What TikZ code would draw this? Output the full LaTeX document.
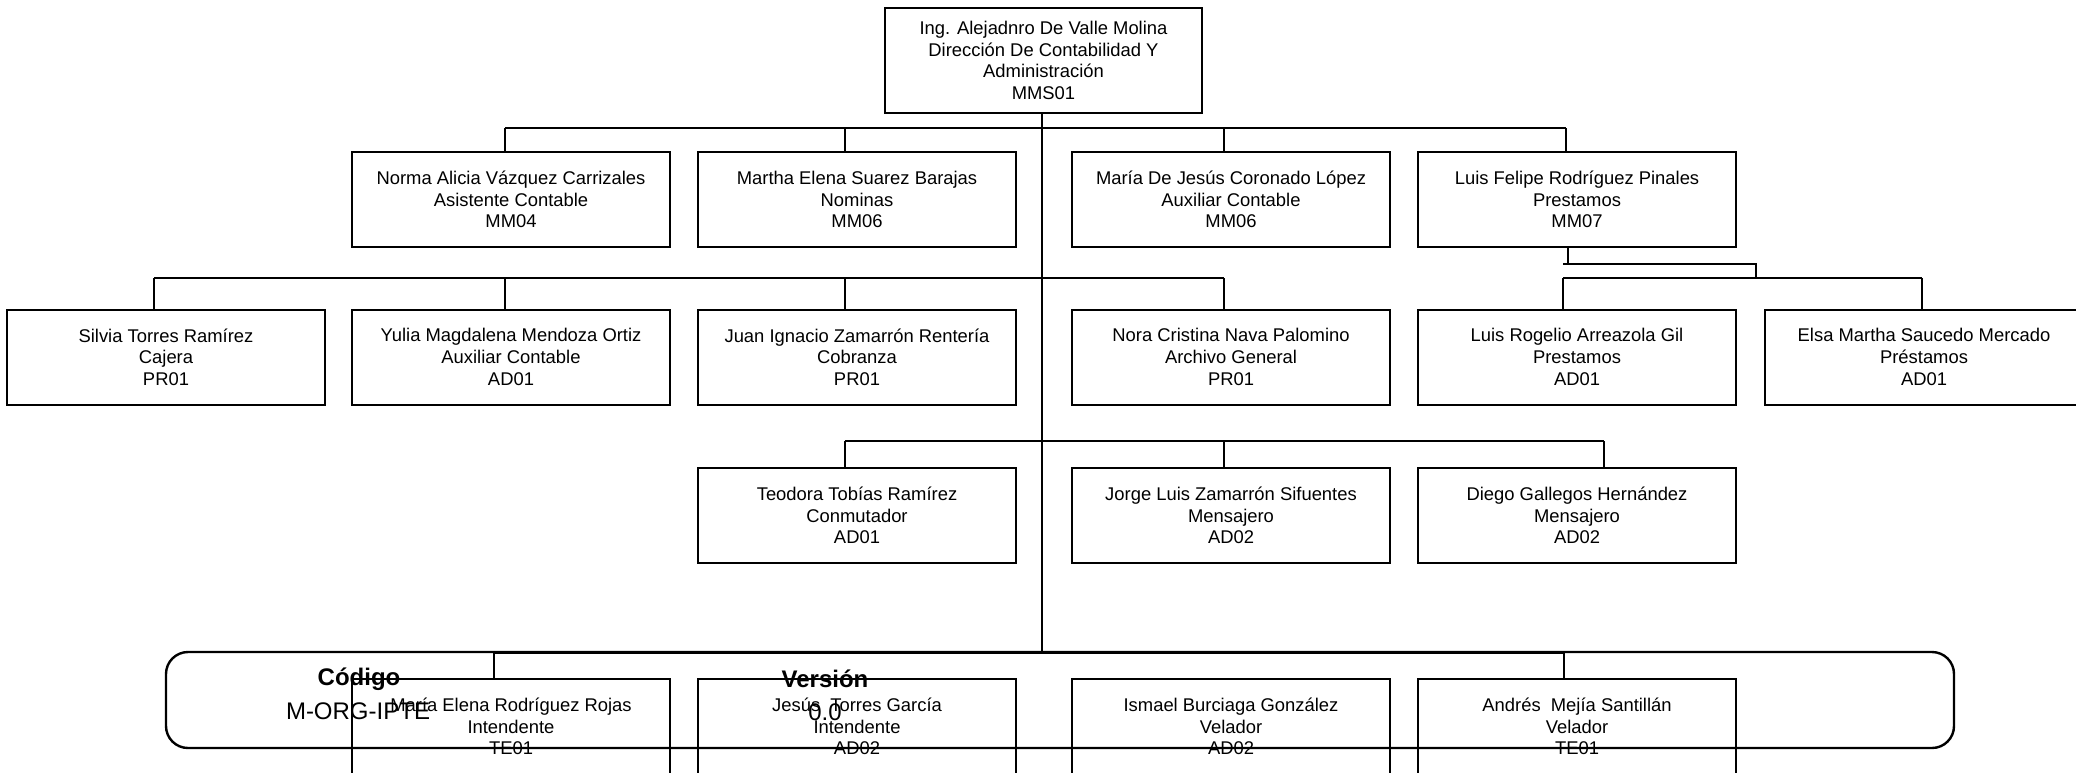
\documentclass[tikz,border=0pt]{standalone}
\usepackage{fontspec}
\setmainfont{Liberation Sans}
\begin{document}
\begin{tikzpicture}[x=0.5pt,y=-0.5pt,
  box/.style={draw, line width=1pt, minimum width=159pt, minimum height=47.5pt,
    inner sep=0pt, align=center, font=\fontsize{9.2pt}{10.8pt}\selectfont},
  link/.style={line width=0.7pt},
  foothead/.style={font=\fontsize{12pt}{14pt}\selectfont\bfseries, inner sep=0pt},
  foottext/.style={font=\fontsize{12pt}{14pt}\selectfont, inner sep=0pt},
  footbox/.style={draw, line width=1.2pt, rounded corners=11pt}]
\useasboundingbox (0,0) rectangle (2076,772);

% top
\node[box, minimum width=158.5pt, minimum height=52.5pt] (top) at (1043.5,60.5)
  {Ing. Alejadnro De Valle Molina\\Dirección De Contabilidad Y\\Administración\\MMS01};

% row 1
\node[box] (norma)  at (511,199.5)  {Norma Alicia Vázquez Carrizales\\Asistente Contable\\MM04};
\node[box] (martha) at (857,199.5)  {Martha Elena Suarez Barajas\\Nominas\\MM06};
\node[box] (mdj)    at (1231,199.5) {María De Jesús Coronado López\\Auxiliar Contable\\MM06};
\node[box] (lf)     at (1577,199.5) {Luis Felipe Rodríguez Pinales\\Prestamos\\MM07};

% row 2
\node[box] (silvia) at (166,357)  {Silvia Torres Ramírez\\Cajera\\PR01};
\node[box] (yulia)  at (511,357)  {Yulia Magdalena Mendoza Ortiz\\Auxiliar Contable\\AD01};
\node[box] (juan)   at (857,357)  {Juan Ignacio Zamarrón Rentería\\Cobranza\\PR01};
\node[box] (nora)   at (1231,357) {Nora Cristina Nava Palomino\\Archivo General\\PR01};
\node[box] (lr)     at (1577,357) {Luis Rogelio Arreazola Gil\\Prestamos\\AD01};
\node[box] (elsa)   at (1924,357) {Elsa Martha Saucedo Mercado\\Préstamos\\AD01};

% row 3
\node[box] (teo)    at (857,515.5)  {Teodora Tobías Ramírez\\Conmutador\\AD01};
\node[box] (jorge)  at (1231,515.5) {Jorge Luis Zamarrón Sifuentes\\Mensajero\\AD02};
\node[box] (diego)  at (1577,515.5) {Diego Gallegos Hernández\\Mensajero\\AD02};

% row 4
\node[box] (mer)    at (511,726.5)  {María Elena Rodríguez Rojas\\Intendente\\TE01};
\node[box] (jesus)  at (857,726.5)  {Jesús\ \ Torres García\\Intendente\\AD02};
\node[box] (ismael) at (1231,726.5) {Ismael Burciaga González\\Velador\\AD02};
\node[box] (andres) at (1577,726.5) {Andrés\ \ Mejía Santillán\\Velador\\TE01};

% bus coordinates
\coordinate (t0) at (1042,113);
\coordinate (tEnd) at (1042,653);
\coordinate (b1a) at (505,128);
\coordinate (b1b) at (845,128);
\coordinate (b1c) at (1224,128);
\coordinate (b1d) at (1566,128);
\coordinate (b2a) at (154,278);
\coordinate (b2b) at (505,278);
\coordinate (b2c) at (845,278);
\coordinate (b2d) at (1224,278);
\coordinate (b3a) at (845,441);
\coordinate (b3b) at (1224,441);
\coordinate (b3c) at (1604,441);
\coordinate (b4a) at (494,653);
\coordinate (b4b) at (1564,653);
\coordinate (lfa) at (1568,264);
\coordinate (lfs) at (1563,264);
\coordinate (lfb) at (1756,264);
\coordinate (lfc) at (1756,278);
\coordinate (b5a) at (1563,278);
\coordinate (b5b) at (1922,278);

% trunk
\draw[link] (top.south -| t0) -- (tEnd);

% row 1 connectors
\draw[link] (b1a) -- (b1d);
\draw[link] (b1a) -- (b1a |- norma.north);
\draw[link] (b1b) -- (b1b |- martha.north);
\draw[link] (b1c) -- (b1c |- mdj.north);
\draw[link] (b1d) -- (b1d |- lf.north);

% row 2 connectors
\draw[link] (b2a) -- (b2d);
\draw[link] (b2a) -- (b2a |- silvia.north);
\draw[link] (b2b) -- (b2b |- yulia.north);
\draw[link] (b2c) -- (b2c |- juan.north);
\draw[link] (b2d) -- (b2d |- nora.north);

% Luis Felipe subtree
\draw[link] (lfa |- lf.south) -- (lfa);
\draw[link] (lfs) -- (lfb) -- (lfc);
\draw[link] (b5a) -- (b5b);
\draw[link] (b5a) -- (b5a |- lr.north);
\draw[link] (b5b) -- (b5b |- elsa.north);

% row 3 connectors
\draw[link] (b3a) -- (b3c);
\draw[link] (b3a) -- (b3a |- teo.north);
\draw[link] (b3b) -- (b3b |- jorge.north);
\draw[link] (b3c) -- (b3c |- diego.north);

% row 4 connectors
\draw[link] (b4a) -- (b4b);
\draw[link] (b4a) -- (b4a |- mer.north);
\draw[link] (b4b) -- (b4b |- andres.north);

% footer
\draw[footbox] (166,652) rectangle (1954,748);
\node[foothead] (cod) at (359,679) {Código};
\node[foottext] (codv) at (358,711) {M-ORG-IPTE};
\node[foothead] (ver) at (825,679) {Versión};
\node[foottext] (verv) at (825,712) {0.0};
\end{tikzpicture}
\end{document}
